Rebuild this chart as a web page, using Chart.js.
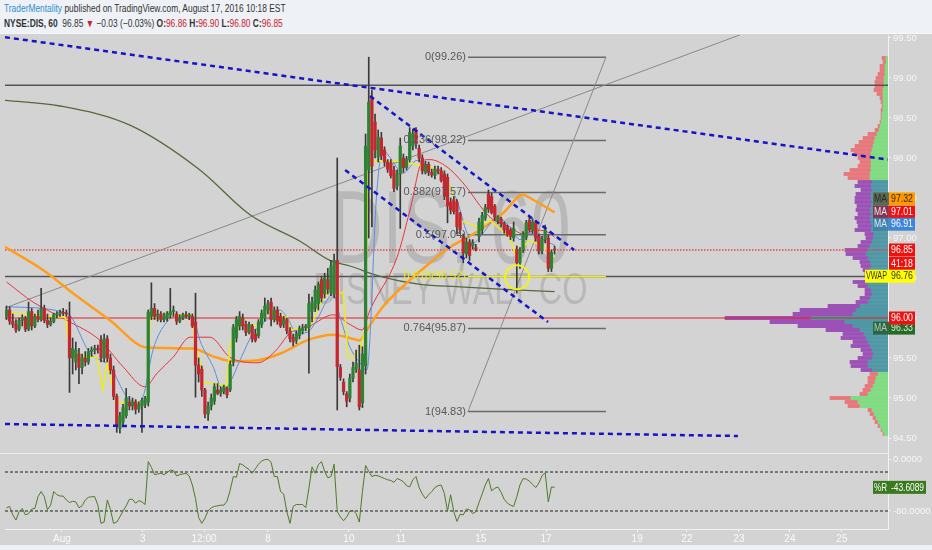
<!DOCTYPE html>
<html>
<head>
<meta charset="utf-8">
<title>NYSE:DIS, 60</title>
<script src="https://cdn.jsdelivr.net/npm/chart.js@4.4.1/dist/chart.umd.min.js"></script>
<style>
  html, body { margin: 0; padding: 0; background: #eef1f6; }
  #wrap { position: relative; width: 932px; height: 550px; overflow: hidden; background: #eef1f6;
          font-family: "Liberation Sans Narrow", "Liberation Sans", Arial, sans-serif; }
  .hdr { position: absolute; left: 4px; font-size: 10.5px; line-height: 13px; color: #333; white-space: nowrap;
         transform: scaleX(0.8); transform-origin: 0 50%; }
  #h1 { top: 2px; }
  #h2 { top: 17px; }
  .author { color: #2f8fd0; }
  .neg { color: #c8242b; }
  #panel { position: absolute; left: 0; top: 33px; width: 932px; height: 512px; background: #d3d3d3;
           border-top: 1px solid #f6f8fb; box-sizing: border-box; }
  canvas { position: absolute; }
  #profile { left: 700px; top: 35px; }
  #main { left: 0; top: 35px; }
  #wr { left: 0; top: 454px; }
  #sep { position: absolute; left: 0; top: 453px; width: 889px; height: 1px; background: #ededed; }
</style>
</head>
<body>
<div id="wrap">
  <div class="hdr" id="h1"><span class="author">TraderMentality</span> published on TradingView.com, August 17, 2016 10:18 EST</div>
  <div class="hdr" id="h2"><b>NYSE:DIS, 60</b>&nbsp; 96.85 <span class="neg">▼</span> −0.03 (−0.03%) <b>O:</b><span class="neg">96.86</span> <b>H:</b><span class="neg">96.90</span> <b>L:</b><span class="neg">96.80</span> <b>C:</b><span class="neg">96.85</span></div>
  <div id="panel"></div>
  <canvas id="profile" width="188" height="418"></canvas>
  <canvas id="main" width="932" height="418"></canvas>
  <div id="sep"></div>
  <canvas id="wr" width="932" height="91"></canvas>
</div>
<script>
const FONT = '"Liberation Sans Narrow", "Liberation Sans", Arial, sans-serif';
const FONT_WIDE = '"Liberation Sans", Arial, sans-serif';

// candles, one per bar (bar number = array index)
const open = [
  96.02, 96.10, 95.96, 95.92, 95.86, 95.97, 96.00, 95.86, 96.08, 95.90,
  96.02, 95.98, 96.12, 95.97, 95.92, 95.96, 96.04, 96.05, 96.07, 96.06,
  96.02, 95.50, 95.45, 95.55, 95.38, 95.50, 95.45, 95.58, 95.60, 95.62,
  95.72, 95.50, 95.74, 95.50, 95.35, 95.02, 94.62, 94.70, 94.78, 94.95,
  94.90, 94.95, 94.86, 94.90, 94.92, 94.95, 96.02, 96.12, 96.02, 96.05,
  95.98, 96.00, 96.04, 96.08, 96.05, 95.96, 96.00, 96.04, 96.02, 96.02,
  95.95, 95.41, 95.36, 95.10, 94.80, 94.90, 94.96, 95.10, 95.06, 95.08,
  95.12, 95.10, 95.45, 95.75, 95.90, 96.00, 95.92, 95.82, 95.90, 95.80,
  95.78, 95.92, 96.00, 96.10, 96.20, 95.98, 96.10, 96.02, 95.92, 95.98,
  95.84, 95.76, 95.72, 95.78, 95.84, 95.88, 95.88, 96.08, 96.12, 96.18,
  96.48, 96.30, 96.48, 96.32, 96.30, 96.72, 95.38, 95.20, 95.05, 95.00,
  95.25, 95.36, 95.35, 94.94, 95.40, 97.85, 98.76, 98.45, 98.01, 98.25,
  98.10, 97.95, 97.94, 97.85, 97.65, 97.80, 98.00, 97.88, 97.98, 98.15,
  98.35, 98.12, 98.00, 97.82, 97.92, 97.82, 97.78, 97.86, 97.84, 97.80,
  97.76, 97.45, 97.48, 97.45, 97.30, 97.02, 96.80, 96.95, 96.90, 96.88,
  97.02, 97.10, 97.25, 97.55, 97.52, 97.40, 97.22, 97.24, 97.18, 97.14,
  97.10, 97.00, 96.86, 96.69, 96.85, 97.01, 97.22, 97.10, 97.19, 97.02,
  96.84, 96.98, 97.00, 96.62, 96.86
];
const high = [
  96.15, 96.14, 96.05, 95.98, 96.00, 96.04, 96.02, 96.20, 96.12, 96.05,
  96.10, 96.37, 96.16, 96.05, 96.00, 96.06, 96.08, 96.10, 96.12, 96.10,
  96.20, 95.75, 95.70, 95.62, 95.55, 95.58, 95.62, 95.64, 95.66, 95.66,
  95.78, 95.80, 95.78, 95.55, 95.40, 95.05, 94.82, 94.92, 95.12, 95.02,
  95.00, 94.98, 94.95, 95.00, 95.02, 96.10, 96.44, 96.18, 96.10, 96.08,
  96.06, 96.08, 96.37, 96.15, 96.08, 96.04, 96.06, 96.08, 96.06, 96.05,
  96.31, 95.50, 95.40, 95.12, 94.95, 95.05, 95.18, 95.18, 95.14, 95.16,
  95.14, 95.46, 95.92, 96.02, 96.08, 96.05, 95.96, 95.95, 95.92, 95.86,
  95.98, 96.10, 96.25, 96.22, 96.25, 96.14, 96.14, 96.06, 96.02, 96.00,
  95.88, 95.80, 95.84, 95.90, 95.92, 95.92, 96.30, 96.26, 96.40, 96.45,
  96.52, 96.56, 96.62, 96.72, 96.80, 98.00, 95.42, 95.24, 95.08, 95.30,
  95.45, 95.60, 95.66, 95.64, 98.30, 99.26, 98.85, 98.55, 98.35, 98.32,
  98.14, 97.98, 97.98, 97.90, 97.85, 98.25, 98.05, 98.02, 98.38, 98.36,
  98.38, 98.16, 98.04, 97.96, 97.95, 97.86, 97.90, 97.90, 97.88, 97.84,
  97.80, 97.50, 97.52, 97.48, 97.32, 97.05, 97.00, 96.98, 96.98, 96.92,
  97.25, 97.32, 97.42, 97.60, 97.56, 97.42, 97.28, 97.26, 97.20, 97.16,
  97.12, 97.20, 96.90, 96.88, 97.08, 97.22, 97.26, 97.24, 97.22, 97.05,
  97.02, 97.16, 97.04, 96.85, 96.90
];
const low = [
  95.98, 95.92, 95.88, 95.82, 95.84, 95.90, 95.83, 95.84, 95.85, 95.88,
  95.95, 95.96, 95.94, 95.88, 95.90, 95.94, 96.00, 96.02, 96.03, 96.02,
  95.07, 95.30, 95.35, 95.18, 95.30, 95.40, 95.42, 95.52, 95.55, 95.56,
  95.45, 95.45, 95.45, 95.30, 94.98, 94.57, 94.56, 94.65, 94.75, 94.85,
  94.85, 94.80, 94.82, 94.57, 94.88, 94.90, 95.98, 95.98, 95.96, 95.95,
  95.95, 95.96, 96.00, 96.02, 95.92, 95.94, 95.98, 96.00, 95.98, 95.88,
  95.01, 95.20, 95.02, 94.75, 94.72, 94.85, 94.92, 95.04, 95.02, 95.05,
  95.00, 95.08, 95.40, 95.70, 95.85, 95.85, 95.78, 95.80, 95.70, 95.70,
  95.75, 95.88, 95.96, 96.05, 95.90, 95.95, 95.92, 95.88, 95.88, 95.80,
  95.70, 95.65, 95.68, 95.74, 95.80, 95.84, 95.31, 95.95, 96.08, 96.10,
  96.20, 96.25, 96.30, 96.28, 96.25, 94.85, 95.22, 95.04, 94.89, 94.95,
  95.20, 95.32, 94.85, 94.88, 95.30, 97.00, 97.14, 98.00, 97.95, 97.98,
  97.90, 97.82, 97.75, 97.58, 97.60, 97.12, 97.82, 97.85, 97.95, 98.10,
  98.12, 97.95, 97.80, 97.80, 97.78, 97.76, 97.74, 97.80, 97.70, 97.48,
  97.19, 97.30, 97.30, 97.05, 97.05, 96.69, 96.75, 96.72, 96.86, 96.84,
  96.95, 97.05, 97.22, 97.32, 97.30, 97.22, 97.18, 97.14, 97.06, 97.02,
  96.98, 96.96, 96.31, 96.62, 96.82, 96.98, 97.08, 97.06, 96.96, 96.80,
  96.80, 96.94, 96.58, 96.58, 96.80
];
const close = [
  96.10, 95.96, 95.92, 95.85, 95.97, 96.00, 95.86, 96.08, 95.90, 96.02,
  95.98, 96.12, 95.97, 95.92, 95.96, 96.04, 96.05, 96.07, 96.06, 96.05,
  95.50, 95.62, 95.60, 95.38, 95.50, 95.45, 95.58, 95.60, 95.62, 95.60,
  95.50, 95.74, 95.50, 95.35, 95.02, 94.66, 94.78, 94.88, 95.00, 94.90,
  94.95, 94.86, 94.92, 94.97, 95.00, 96.07, 96.12, 96.02, 96.05, 95.98,
  96.03, 96.06, 96.08, 96.10, 95.96, 96.00, 96.04, 96.02, 96.04, 95.90,
  95.41, 95.30, 95.10, 94.80, 94.90, 95.00, 95.14, 95.06, 95.10, 95.14,
  95.04, 95.42, 95.88, 95.98, 96.02, 95.90, 95.82, 95.92, 95.74, 95.72,
  95.95, 96.06, 96.15, 96.18, 95.98, 96.10, 95.96, 95.90, 95.98, 95.84,
  95.74, 95.70, 95.80, 95.86, 95.88, 95.90, 96.18, 96.20, 96.35, 96.42,
  96.25, 96.50, 96.36, 96.65, 96.72, 95.39, 95.26, 95.08, 94.96, 95.25,
  95.38, 95.44, 94.89, 95.55, 98.15, 98.70, 97.90, 98.10, 98.26, 98.03,
  97.95, 97.86, 97.78, 97.62, 97.80, 98.15, 97.88, 97.98, 98.32, 98.30,
  98.18, 98.00, 97.84, 97.92, 97.82, 97.79, 97.86, 97.84, 97.72, 97.52,
  97.40, 97.35, 97.33, 97.14, 97.10, 96.81, 96.95, 96.78, 96.94, 96.86,
  97.20, 97.28, 97.38, 97.36, 97.32, 97.26, 97.26, 97.18, 97.10, 97.04,
  97.02, 97.12, 96.69, 96.85, 97.05, 97.19, 97.10, 97.20, 97.00, 96.84,
  96.98, 97.10, 96.62, 96.82, 96.85
];

// Williams %R, one per bar
const williamsR = [
  -75, -73, -86, -94, -81, -76, -86, -84, -77, -76,
  -58, -50, -58, -78, -71, -50, -55, -57, -57, -63,
  -67, -65, -66, -75, -72, -63, -59, -58, -58, -71,
  -99, -97, -63, -78, -99, -97, -89, -80, -72, -62,
  -62, -68, -64, -66, -70, -4, -13, -24, -23, -22,
  -24, -21, -17, -18, -26, -24, -23, -22, -26, -40,
  -61, -90, -99, -91, -80, -75, -73, -72, -71, -71,
  -65, -48, -27, -28, -7, -9, -13, -16, -22, -15,
  -8, -3, -1, -0.5, -5, -27, -27, -50, -54, -81,
  -99, -73, -70, -70, -70, -75, -45, -12, -22, -9,
  -4, -19, -29, -27, -8, -81, -89, -95, -89, -80,
  -79, -84, -97, -50, -10, -19, -27, -25, -26, -28,
  -30, -32, -33, -36, -30, -32, -35, -41, -43, -32,
  -27, -44, -54, -61, -55, -50, -44, -41, -40, -53,
  -80, -55, -81, -96, -85, -86, -77, -78, -84, -81,
  -67, -54, -40, -30, -49, -45, -43, -51, -62, -68,
  -71, -73, -58, -40, -30, -31, -34, -39, -44, -37,
  -26, -21, -66, -43, -43.6089
];
const wrBands = [-20, -80];

// time axis labels, placed at bar numbers
const tickIndex = [17.6, 43.3, 62.7, 83, 108.7, 125.2, 150.6, 171.3, 200.2, 216, 232.5, 248.7, 265.2];
const tickLabels = ['Aug', '3', '12:00', '8', '10', '11', '15', '17', '19', '22', '23', '24', '25'];

// indicator lines, [bar, price]
const maOrange = [[-0.5, 96.89], [11.6, 96.60], [21.1, 96.31], [32.9, 95.97], [44.6, 95.63], [59.2, 95.62],
  [65.6, 95.52], [71.9, 95.46], [79.5, 95.47], [87.8, 95.57], [95.4, 95.72], [103.7, 95.79], [109, 95.75],
  [112.2, 95.72], [114.4, 95.85], [119.5, 96.14], [127.1, 96.44], [135.4, 96.72], [139.8, 96.86],
  [150.3, 97.10], [157.6, 97.31], [164, 97.54], [166.2, 97.50], [174, 97.32]];
const maRed = [[0, 96.45], [8.4, 96.20], [19.2, 95.97], [29.7, 95.72], [37, 95.39], [44, 95.14], [47.8, 95.31],
  [52.9, 95.51], [58.3, 95.76], [64.6, 95.76], [70.9, 95.51], [79.8, 95.44], [85.2, 95.58], [90, 95.81],
  [96.3, 95.90], [103.7, 96.04], [109, 95.92], [112.9, 95.85], [115.4, 96.10], [124, 96.76], [128.1, 97.35],
  [132.2, 97.97], [134.4, 97.98], [139.8, 97.89], [144.9, 97.69], [153.5, 97.26], [159.8, 97.14], [164, 97.05],
  [168.4, 97.10], [172.5, 97.06], [174, 97.01]];
const maBlue = [[0, 96.14], [19.2, 96.06], [26.5, 95.56], [32.9, 95.39], [38.3, 95.01], [41.4, 94.95], [43.3, 95.01],
  [46.5, 95.60], [50.9, 95.95], [55.1, 96.04], [59.2, 96.01], [61.4, 95.72], [65.6, 95.39], [68.7, 95.10],
  [70.9, 95.19], [74.1, 95.47], [78.3, 95.81], [82.7, 95.98], [86.8, 96.10], [89, 96.01], [92.2, 95.81],
  [95.4, 95.82], [98.6, 95.98], [101.7, 96.22], [103.7, 96.31], [105.9, 96.01], [109, 95.64], [112.2, 95.44],
  [114.4, 95.35], [117.6, 97.60], [119.5, 98.10], [121.7, 98.01], [125.9, 97.81], [130.3, 97.97], [134.4, 97.89],
  [138.6, 97.76], [143, 97.47], [146.2, 97.06], [148.1, 96.94], [151.3, 97.06], [155.7, 97.26], [159.8, 97.14],
  [163, 96.98], [166.2, 97.06], [170.3, 96.98], [174, 96.91]];
const vwapLine = [[-0.5, 96.07], [18.6, 96.01], [20.2, 95.60], [25.6, 95.51], [28.7, 95.51], [30.6, 95.10],
  [31.9, 95.44], [34.4, 95.01], [36, 94.94], [44.6, 94.95], [45.6, 96.01], [55.1, 96.04], [59.2, 96.04],
  [59.8, 95.64], [61.4, 95.47], [62.4, 95.19], [70, 95.16], [70.9, 95.66], [72.5, 95.79], [74.1, 95.91],
  [80.5, 95.92], [82.1, 96.07], [89, 96.01], [90, 95.85], [95.4, 95.87], [97.3, 95.96], [99.5, 96.17],
  [101.7, 96.31], [106.8, 96.32], [107.5, 96.01], [108.4, 95.51], [110, 95.50], [112.2, 95.60], [113.8, 95.85],
  [114.8, 97.85], [116.4, 97.97], [124, 97.96], [134.4, 97.89], [138.6, 97.81], [141.7, 97.56], [144, 97.22],
  [149.4, 97.14], [153.5, 97.22], [159.8, 97.01], [162.1, 96.72], [164, 96.89], [166.2, 96.97], [170.3, 96.89],
  [174, 96.76]];
const maOlive = [[-0.5, 98.72], [17, 98.65], [39.2, 98.41], [61.4, 97.85], [77.3, 97.29], [93.2, 96.96],
  [102.7, 96.72], [109, 96.65], [118.6, 96.52], [131.3, 96.42], [144, 96.39], [156.7, 96.36], [174, 96.33]];

// drawings, [bar, price]
const trendTop = [[-0.48, 99.51], [279.84, 97.98]];
const trendBottom = [[-0.48, 94.675], [232.2, 94.525]];
const channelHigh = [[115.4, 98.775], [180.2, 96.85]];
const channelLow = [[107.5, 97.85], [171.9, 95.95]];
const grayTrend = [[-0.48, 96.125], [232.9, 99.54]];
const levelLines = [98.91, 96.52];
const supportLevel = 96.00;
const circleAt = [162.1, 96.51];

// fibonacci retracement
const fibStart = 146.5, fibEnd = 190.3;
const fibRatios = ['0', '0.236', '0.382', '0.5', '0.618', '0.764', '1'];
const fibLevels = [99.26, 98.22, 97.57, 97.04, 96.52, 95.87, 94.83];

// volume profile, rows of 0.05 from 99.25 down
const profileTop = 99.25, profileStep = 0.05;
const profileUp = [
  2, 2, 3, 3, 3, 4, 4, 4, 5, 5,
  5, 5, 5, 5, 6, 6, 7, 8, 9, 11,
  13, 14, 15, 16, 17, 17, 17, 17, 17, 18,
  18, 16, 17, 16, 17, 17, 16, 17, 18, 17,
  18, 17, 16, 17, 14, 15, 16, 18, 20, 22,
  20, 18, 17, 18, 18, 18, 22, 20, 17, 16,
  18, 20, 28, 32, 35, 77, 43, 35, 28, 24,
  22, 20, 18, 16, 15, 16, 20, 20, 16, 10,
  12, 13, 15, 17, 20, 37, 30, 28, 16, 14,
  12, 10, 8, 6, 4
];
const profileDown = [
  4, 3, 5, 5, 7, 8, 9, 9, 9, 6,
  3, 2, 1, 2, 1, 1, 1, 2, 4, 9,
  12, 15, 18, 21, 17, 13, 11, 13, 21, 26,
  22, 14, 16, 11, 15, 16, 17, 14, 14, 13,
  15, 14, 14, 16, 9, 7, 11, 12, 23, 20,
  15, 10, 10, 7, 5, 4, 13, 10, 6, 7,
  10, 12, 32, 56, 60, 86, 75, 55, 34, 21,
  25, 15, 19, 11, 10, 14, 18, 17, 11, 8,
  8, 7, 8, 8, 8, 21, 13, 12, 4, 4,
  3, 3, 2, 1, 1
];
const valueAreaLow = 95.33, valueAreaHigh = 97.72;

// visible window
const X_MIN = -0.476, X_MAX = 279.84;
const Y_MIN = 94.3125, Y_MAX = 99.5375;

Chart.defaults.font.family = FONT;
Chart.defaults.animation = false;

const pts = list => list.map(([x, y]) => ({ x, y }));
const acrossChart = p => [[X_MIN, p], [X_MAX, p]];
function line(list, color, width, extra) {
  return Object.assign({
    type: 'line', data: pts(list), borderColor: color, borderWidth: width,
    pointRadius: 0, fill: false, tension: 0
  }, extra || {});
}
const smooth = { cubicInterpolationMode: 'monotone' };

function drawTag(ctx, axisX, y, t) {
  const h = 13, w = t.width || 26;
  ctx.font = '10px ' + FONT;
  ctx.textBaseline = 'middle';
  if (t.side) {
    const sw = t.sideWidth || 15;
    ctx.fillStyle = t.sideBg;
    ctx.fillRect(axisX - sw, y - h / 2, sw + 1, h);
    ctx.fillStyle = t.sideFg;
    ctx.textAlign = 'center';
    ctx.fillText(t.side, axisX - sw / 2, y + 0.5, sw - 2);
  }
  ctx.fillStyle = t.bg;
  ctx.fillRect(axisX + 1, y - h / 2, w, h);
  ctx.fillStyle = t.fg;
  ctx.textAlign = 'left';
  ctx.fillText(t.text, axisX + 3, y + 0.5, w - 4);
}

const lastPrice = close[close.length - 1];
const lastOf = list => list[list.length - 1][1];

const mainOverlay = {
  id: 'mainOverlay',
  beforeDatasetsDraw(chart) {
    const { ctx, chartArea: a } = chart;
    const h = a.bottom - a.top;
    const cx = (a.left + a.right) / 2 + 4;
    ctx.save();
    ctx.fillStyle = 'rgba(100,100,100,0.24)';
    ctx.textAlign = 'center';
    ctx.textBaseline = 'alphabetic';
    ctx.font = '104px ' + FONT;
    ctx.fillText('DIS, 60', cx, a.top + h * 0.545, 240);
    ctx.font = '44px ' + FONT;
    ctx.fillText('DISNEY WALT CO', cx, a.top + h * 0.643, 274);
    ctx.restore();
  },
  afterDatasetsDraw(chart) {
    const { ctx, scales: { x, y } } = chart;
    ctx.save();
    ctx.font = '11px ' + FONT_WIDE;
    ctx.textAlign = 'right';
    ctx.textBaseline = 'middle';
    const left = x.getPixelForValue(fibStart) - 2;
    fibRatios.forEach((r, k) => {
      ctx.fillStyle = r === '0.618' ? '#ecec12' : '#585858';
      ctx.fillText(r + '(' + fibLevels[k].toFixed(2) + ')', left, y.getPixelForValue(fibLevels[k]));
    });
    ctx.restore();
  },
  afterDraw(chart) {
    const { ctx, chartArea: a, scales: { y } } = chart;
    const tags = [
      { value: lastOf(maOrange), dy: -13.5, bg: '#ff9a00', fg: '#3a2600', side: 'MA', sideBg: 'rgba(92,102,72,0.92)', sideFg: '#2a2a2a' },
      { value: lastOf(maRed), dy: -25, bg: '#f01010', fg: '#fff', side: 'MA', sideBg: 'rgba(140,40,72,0.9)', sideFg: '#e6e6e6' },
      { value: lastOf(maBlue), dy: -21, bg: '#3d86d8', fg: '#fff', side: 'MA', sideBg: 'rgba(62,128,168,0.9)', sideFg: '#e0e6ee' },
      { value: lastPrice, dy: 0, bg: '#f01010', fg: '#fff' },
      { value: lastPrice, dy: 13.5, bg: '#f01010', fg: '#fff', text: '41:18' },
      { value: lastOf(vwapLine), dy: 19, bg: '#ffff00', fg: '#333', side: 'VWAP', sideWidth: 23, sideBg: '#ffff00', sideFg: '#333' },
      { value: lastOf(maOlive), dy: 36.5, bg: '#246b24', fg: '#dfe8df', side: 'MA', sideBg: 'rgba(38,98,58,0.92)', sideFg: '#b8c8b8' },
      { value: supportLevel, dy: 0, bg: '#f01010', fg: '#fff' }
    ];
    ctx.save();
    tags.forEach(t => {
      drawTag(ctx, a.right, y.getPixelForValue(t.value) + t.dy,
        Object.assign({ text: t.value.toFixed(2) }, t, t.text ? { text: t.text } : {}));
    });
    ctx.restore();
  }
};

const fibDatasets = fibLevels.map(lv => line([[fibStart, lv], [fibEnd, lv]],
  lv === 96.52 ? '#eeee1a' : '#6a6a6a', 1.5, { order: 19 }));

new Chart(document.getElementById('main'), {
  type: 'bar',
  data: {
    datasets: [
      line(acrossChart(levelLines[0]), '#555', 1.5, { order: 20 }),
      line(acrossChart(levelLines[1]), '#555', 1.5, { order: 20 }),
      line(acrossChart(supportLevel), '#e82020', 1.2, { order: 20 }),
      line(acrossChart(lastPrice), '#e04848', 1.3, { borderDash: [1.5, 1.5], order: 20 }),
      line(grayTrend, '#8a8a8a', 1, { order: 19 }),
      line([[fibStart, fibLevels[6]], [fibEnd, fibLevels[0]]], '#8a8a8a', 1, { order: 19 }),
      ...fibDatasets,
      line(maOlive, '#56693a', 1.3, Object.assign({ order: 18 }, smooth)),
      line(maOrange, '#ff9d1c', 2.5, Object.assign({ order: 17 }, smooth)),
      line(maRed, '#e8333f', 1, Object.assign({ order: 16 }, smooth)),
      line(maBlue, '#5a8ee0', 1, Object.assign({ order: 15 }, smooth)),
      line(vwapLine, '#eded1a', 1.5, { order: 14 }),
      {
        type: 'bar', order: 6, grouped: false, barThickness: 1, backgroundColor: '#3a3a3a',
        data: close.map((c, i) => ({ x: i, y: [low[i], high[i]] }))
      },
      {
        type: 'bar', order: 5, grouped: false, barThickness: 2.6, minBarLength: 1,
        backgroundColor: close.map((c, i) => c >= open[i] ? '#2d8233' : '#c4272d'),
        data: close.map((c, i) => ({ x: i, y: [open[i], c] }))
      },
      line(trendTop, '#1414c8', 2.5, { borderDash: [5, 4], order: 2 }),
      line(trendBottom, '#1414c8', 2.5, { borderDash: [5, 4], order: 2 }),
      line(channelHigh, '#1414c8', 2.5, { borderDash: [5, 4], order: 2 }),
      line(channelLow, '#1414c8', 2.5, { borderDash: [5, 4], order: 2 }),
      {
        type: 'line', order: 1, showLine: false, data: pts([circleAt]),
        pointRadius: 12, pointBorderWidth: 2, pointBorderColor: '#f2f21a', pointBackgroundColor: 'rgba(0,0,0,0)'
      }
    ]
  },
  options: {
    responsive: false,
    events: [],
    layout: { autoPadding: false, padding: { left: 5, right: 0, top: 0, bottom: 0 } },
    plugins: { legend: { display: false }, tooltip: { enabled: false } },
    scales: {
      x: { type: 'linear', min: X_MIN, max: X_MAX, offset: false, display: false },
      y: {
        type: 'linear', position: 'right', min: Y_MIN, max: Y_MAX, beginAtZero: false,
        ticks: {
          stepSize: 0.5, includeBounds: false, color: '#f6f6f6', padding: 2,
          font: { family: FONT, size: 9.5 }, callback: v => v.toFixed(2)
        },
        grid: { drawOnChartArea: false, drawTicks: true, tickLength: 3, color: '#f2f2f2' },
        border: { display: true, color: '#f2f2f2' },
        afterFit(s) { s.width = 44; s.paddingTop = 0; s.paddingBottom = 0; }
      }
    }
  },
  plugins: [mainOverlay]
});

// volume profile on the right edge
const profileLevels = profileUp.map((_, k) => +(profileTop - k * profileStep).toFixed(2));
const inValueArea = p => p >= valueAreaLow && p <= valueAreaHigh;
new Chart(document.getElementById('profile'), {
  type: 'bar',
  data: {
    datasets: [
      {
        data: profileLevels.map((p, k) => ({ y: p, x: [0, profileUp[k]] })),
        backgroundColor: profileLevels.map(p => inValueArea(p) ? '#4f97a5' : '#80dc80')
      },
      {
        data: profileLevels.map((p, k) => ({ y: p, x: [profileUp[k], profileUp[k] + profileDown[k]] })),
        backgroundColor: profileLevels.map(p => inValueArea(p) ? '#9c51b6' : '#e8777b')
      }
    ]
  },
  options: {
    indexAxis: 'y',
    responsive: false,
    events: [],
    layout: { autoPadding: false, padding: 0 },
    datasets: { bar: { barThickness: 3.2, grouped: false, borderWidth: 0 } },
    plugins: { legend: { display: false }, tooltip: { enabled: false } },
    scales: {
      y: { type: 'linear', min: Y_MIN, max: Y_MAX, offset: false, display: false },
      x: { type: 'linear', min: 0, max: 188, reverse: true, display: false }
    }
  }
});

// Williams %R pane with the time axis
const wrOverlay = {
  id: 'wrOverlay',
  afterDraw(chart) {
    const { ctx, chartArea: a, scales: { y } } = chart;
    const v = williamsR[williamsR.length - 1];
    ctx.save();
    drawTag(ctx, a.right, y.getPixelForValue(v), {
      text: v.toFixed(4), width: 37, bg: '#3a7a1e', fg: '#fff',
      side: '%R', sideBg: '#3a7a1e', sideFg: '#fff'
    });
    ctx.restore();
  }
};

new Chart(document.getElementById('wr'), {
  type: 'line',
  data: {
    datasets: [
      ...wrBands.map(b => line(acrossChart(b), '#1e1e1e', 1, { borderDash: [3, 2], order: 5 })),
      line(williamsR.map((v, i) => [i, v]), '#4e7a26', 1, { order: 1 })
    ]
  },
  options: {
    responsive: false,
    events: [],
    layout: { autoPadding: false, padding: { left: 5, right: 0, top: 0, bottom: 0 } },
    plugins: { legend: { display: false }, tooltip: { enabled: false } },
    scales: {
      x: {
        type: 'linear', min: X_MIN, max: X_MAX, offset: false,
        afterBuildTicks(s) { s.ticks = tickIndex.map(v => ({ value: v })); },
        ticks: {
          autoSkip: false, maxRotation: 0, color: '#fafafa', padding: 1,
          font: { family: FONT, size: 10 }, callback: (v, i) => tickLabels[i]
        },
        grid: { drawOnChartArea: false, drawTicks: true, tickLength: 3, color: '#f2f2f2' },
        border: { display: true, color: '#f2f2f2' },
        afterFit(s) { s.height = 16; s.paddingLeft = 0; s.paddingRight = 0; }
      },
      y: {
        type: 'linear', position: 'right', min: -107.7, max: 7.7,
        afterBuildTicks(s) { s.ticks = [{ value: 0 }, { value: -80 }]; },
        ticks: { color: '#f6f6f6', padding: 2, font: { family: FONT, size: 9.5 }, callback: v => v.toFixed(4) },
        grid: { drawOnChartArea: false, drawTicks: true, tickLength: 3, color: '#f2f2f2' },
        border: { display: true, color: '#f2f2f2' },
        afterFit(s) { s.width = 44; s.paddingTop = 0; s.paddingBottom = 0; }
      }
    }
  },
  plugins: [wrOverlay]
});
</script>
</body>
</html>
